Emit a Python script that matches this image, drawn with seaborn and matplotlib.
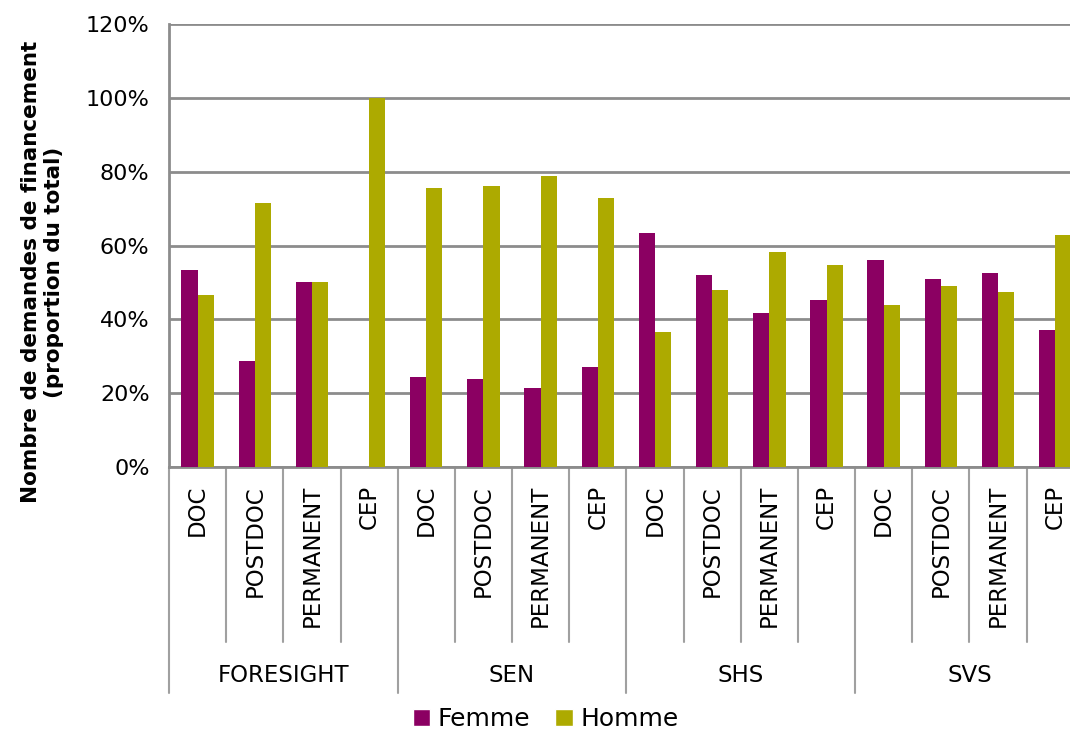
import pandas as pd
import matplotlib
matplotlib.use("Agg")
import matplotlib.pyplot as plt
import seaborn as sns
from matplotlib.ticker import PercentFormatter
from matplotlib.patches import Patch

# data (percent of total)
groups = ["FORESIGHT", "SEN", "SHS", "SVS"]
postes = ["DOC", "POSTDOC", "PERMANENT", "CEP"]
femme = [53.3, 28.6, 50.0, 0.0,
         24.5, 23.8, 21.3, 27.0,
         63.3, 52.0, 41.7, 45.3,
         56.0, 50.9, 52.6, 37.1]
homme = [46.7, 71.4, 50.0, 100.0,
         75.5, 76.2, 78.7, 73.0,
         36.7, 48.0, 58.3, 54.7,
         44.0, 49.1, 47.4, 62.9]
sexes = ["Femme", "Homme"]
colors = {"Femme": "#8B0062", "Homme": "#ADAA00"}
grid_col = "#8c8c8c"

# long table for seaborn
rows = []
i = 0
for g in groups:
    for p in postes:
        rows.append({"pos": i, "groupe": g, "poste": p, "sexe": "Femme", "val": femme[i]})
        rows.append({"pos": i, "groupe": g, "poste": p, "sexe": "Homme", "val": homme[i]})
        i += 1
df = pd.DataFrame(rows)

sns.set_style("white")
plt.rcParams["font.family"] = ["DejaVu Sans"]
plt.rcParams["text.color"] = "black"
plt.rcParams["xtick.color"] = "black"
plt.rcParams["ytick.color"] = "black"
plt.rcParams["axes.labelcolor"] = "black"

fig = plt.figure(figsize=(10.70, 7.39), dpi=100)
ax = fig.add_axes([169 / 1070, (739 - 467) / 739, (1083.8 - 169) / 1070, (467 - 24) / 739])

sns.barplot(data=df, x="pos", y="val", hue="sexe", hue_order=sexes,
            palette=colors, width=0.567, saturation=1, linewidth=0,
            legend=False, ax=ax, zorder=3)

ax.set_ylim(0, 120)
ax.set_xlim(-0.5, len(femme) - 0.5)
ax.set_yticks(range(0, 121, 20))
ax.yaxis.set_major_formatter(PercentFormatter(xmax=100, decimals=0))
ax.tick_params(axis="y", labelsize=16, length=7, width=1.5, color=grid_col,
               labelcolor="black", pad=7)
ax.yaxis.grid(True, color=grid_col, linewidth=2, zorder=0)
ax.set_axisbelow(True)

# category labels
ax.set_xticks(range(len(femme)))
ax.set_xticklabels(postes * len(groups), rotation=90, va="top", fontsize=16.5)
ax.tick_params(axis="x", length=0, pad=13, labelcolor="black")
ax.set_xlabel("")
ax.set_ylabel("Nombre de demandes de financement\n(proportion du total)",
              fontsize=15.5, fontweight="bold")
ax.yaxis.set_label_coords(-0.115, 0.44)

for s in ["top", "right"]:
    ax.spines[s].set_visible(False)
ax.spines["left"].set_color(grid_col)
ax.spines["left"].set_linewidth(2)
ax.spines["bottom"].set_color(grid_col)
ax.spines["bottom"].set_linewidth(2)

# separators between categories and groups
trans = ax.get_xaxis_transform()
for k in range(len(femme)):
    x = k - 0.5
    if k % 4 == 0:
        ax.plot([x, x], [0, -0.51], transform=trans, clip_on=False, color="#a0a0a0", lw=1.5)
    else:
        ax.plot([x, x], [0, -0.395], transform=trans, clip_on=False, color="#a0a0a0", lw=1.5)
for j, g in enumerate(groups):
    ax.text(j * 4 + 1.5, -0.47, g, transform=trans, ha="center", va="center", fontsize=16.5)

handles = [Patch(facecolor=colors[s], label=s) for s in sexes]
fig.legend(handles=handles, loc="lower center", bbox_to_anchor=(0.51, -0.02), ncol=2,
           frameon=False, fontsize=18, handlelength=0.7, handleheight=0.7,
           handletextpad=0.3, columnspacing=1.0)

fig.savefig("out.png", dpi=100)
